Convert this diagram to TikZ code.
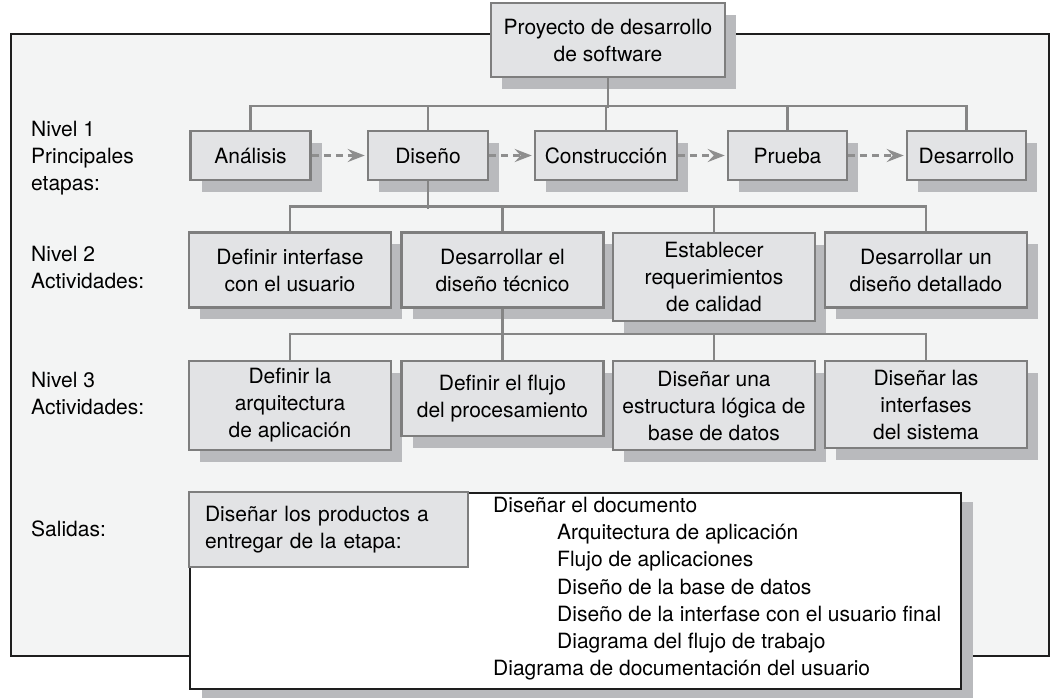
\documentclass[tikz,border=0pt]{standalone}
\usepackage{fontspec}
\setmainfont{TeX Gyre Heros}
\usetikzlibrary{shadows,arrows.meta}
\definecolor{framefill}{HTML}{F3F4F4}
\definecolor{framedraw}{HTML}{1E1E1E}
\definecolor{boxfill}{HTML}{E2E3E5}
\definecolor{boxdraw}{HTML}{7E7E7E}
\definecolor{shd}{HTML}{B9BABD}
\definecolor{conncol}{HTML}{858585}
\definecolor{arrcol}{HTML}{8E8E8E}
\begin{document}
\begin{tikzpicture}[x=1pt,y=-1pt,font=\fontsize{21}{27}\selectfont,
  box/.style={draw=boxdraw, line width=2.5pt, fill=boxfill, align=center, inner sep=0pt,
    drop shadow={shadow xshift=11pt, shadow yshift=-11.5pt, fill=shd, draw=none, opacity=1}},
  box1/.style={box, minimum height=49pt},
  box2/.style={box, minimum width=202pt},
  connector/.style={draw=conncol, line width=2.5pt},
  flow/.style={draw=arrcol, line width=3pt, dash pattern=on 7pt off 5pt,
    -{Stealth[length=17pt,width=13pt,inset=6pt]}, shorten >=2pt},
  lbl/.style={anchor=west, inner sep=0pt, text height=15pt, text depth=4pt}]
\useasboundingbox (0,0) rectangle (1055,697);
% outer frame
\draw[draw=framedraw, line width=2pt, fill=framefill] (11,34) rectangle (1049,656);
% top node
\node[box, minimum width=234pt, minimum height=74pt] (proyecto) at (608,40) {Proyecto de desarrollo\\de software};
% level 1
\node[box1, minimum width=120pt] (analisis) at (250.5,155.5) {Análisis};
\node[box1, minimum width=120pt] (diseno) at (428,155.5) {Diseño};
\node[box1, minimum width=142pt] (construccion) at (606,155.5) {Construcción};
\node[box1, minimum width=119pt] (prueba) at (787.5,155.5) {Prueba};
\node[box1, minimum width=119pt] (desarrollo) at (966.5,155.5) {Desarrollo};
% level 2
\node[box2, minimum height=75pt] (interfase) at (290,270) {Definir interfase\\con el usuario};
\node[box2, minimum height=75pt] (tecnico) at (502.5,270) {Desarrollar el\\diseño técnico};
\node[box2, minimum height=88pt] (calidad) at (714,277) {Establecer\\requerimientos\\de calidad};
\node[box2, minimum height=75pt] (detallado) at (926,270) {Desarrollar un\\diseño detallado};
% level 3
\node[box2, minimum height=89pt] (arquitectura) at (290,405.5) {Definir la\\arquitectura\\de aplicación};
\node[box2, minimum height=75pt] (flujo) at (502.5,398.5) {Definir el flujo\\del procesamiento};
\node[box2, minimum height=89pt] (logica) at (714,405.5) {Diseñar una\\estructura lógica de\\base de datos};
\node[box2, minimum height=87pt] (sistema) at (926,404.5) {Diseñar las\\interfases\\del sistema};
% connectors level 1
\draw[connector] (proyecto.south) -- ++(0,30);
\draw[connector] (analisis.north) -- ++(0,-24) -| (desarrollo.north);
\draw[connector] (diseno.north) -- ++(0,-24);
\draw[connector] (construccion.north) -- ++(0,-24);
\draw[connector] (prueba.north) -- ++(0,-24);
% connectors level 2
\draw[connector] (diseno.south) -- ++(0,28);
\draw[connector] (interfase.north) -- ++(0,-25) -| (detallado.north);
\draw[connector] (tecnico.north) -- ++(0,-25);
\draw[connector] (calidad.north) -- ++(0,-25);
% connectors level 3
\draw[connector] (tecnico.south) -- ++(0,27.5);
\draw[connector] (arquitectura.north) -- ++(0,-26) -| (sistema.north);
\draw[connector] (flujo.north) -- ++(0,-26);
\draw[connector] (logica.north) -- ++(0,-26);
% flow arrows
\draw[flow] (analisis.east) -- (diseno.west);
\draw[flow] (diseno.east) -- (construccion.west);
\draw[flow] (construccion.east) -- (prueba.west);
\draw[flow] (prueba.east) -- (desarrollo.west);
% left labels
\node[lbl] (n1a) at (31,131) {Nivel 1};
\node[lbl] (n1b) at (31,158) {Principales};
\node[lbl] (n1c) at (31,185) {etapas:};
\node[lbl] (n2a) at (31,256) {Nivel 2};
\node[lbl] (n2b) at (31,283) {Actividades:};
\node[lbl] (n3a) at (31,382) {Nivel 3};
\node[lbl] (n3b) at (31,409) {Actividades:};
\node[lbl] (sal) at (31,531) {Salidas:};
% outputs
\node[draw=framedraw, line width=2pt, fill=white, minimum width=771pt, minimum height=196pt, inner sep=0pt,
  drop shadow={shadow xshift=12pt, shadow yshift=-9pt, fill=shd, draw=none, opacity=1}] (salidabox) at (575.5,591) {};
\node[draw=boxdraw, line width=2.5pt, fill=boxfill, minimum width=279pt, minimum height=75pt, inner sep=0pt,
  text width=247pt, align=left] (entregar) at (328.5,529.5) {Diseñar los productos a\\entregar de la etapa:};
\node[lbl] (o1) at (493,507) {Diseñar el documento};
\node[lbl] (o2) at (557,534) {Arquitectura de aplicación};
\node[lbl] (o3) at (557,561) {Flujo de aplicaciones};
\node[lbl] (o4) at (557,589) {Diseño de la base de datos};
\node[lbl] (o5) at (557,616) {Diseño de la interfase con el usuario final};
\node[lbl] (o6) at (557,643) {Diagrama del flujo de trabajo};
\node[lbl] (o7) at (493,670) {Diagrama de documentación del usuario};
\end{tikzpicture}
\end{document}
